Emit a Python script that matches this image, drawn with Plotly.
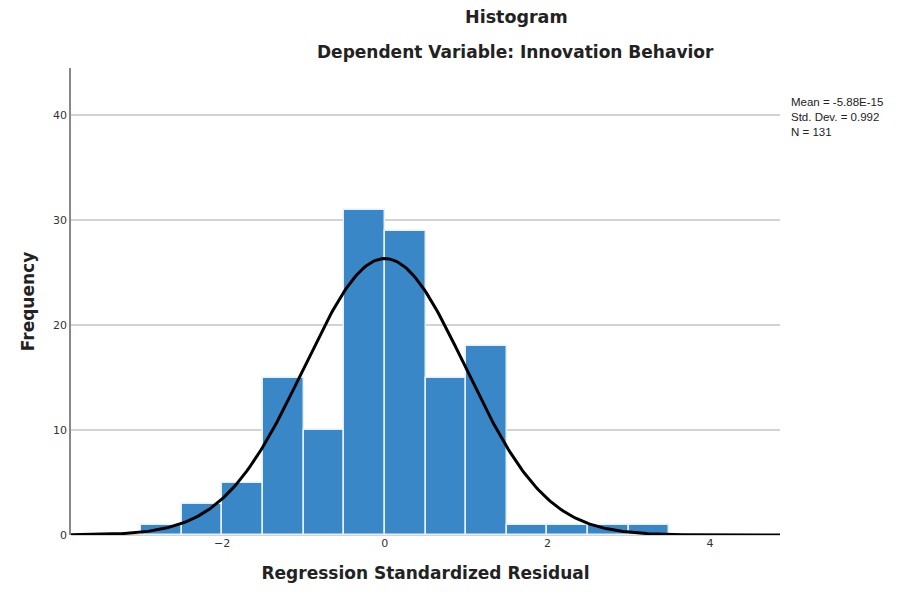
import numpy as np
import plotly.graph_objects as go

# Residual histogram: bin edges (width 0.5) and counts
bin_left = [-3.0, -2.5, -2.0, -1.5, -1.0, -0.5, 0.0, 0.5, 1.0, 1.5, 2.0, 2.5, 3.0]
counts = [1, 3, 5, 15, 10, 31, 29, 15, 18, 1, 1, 1, 1]
bin_width = 0.5

mean = -5.88e-15
std_dev = 0.992
n_obs = 131

x_ticks = [-2, 0, 2, 4]
y_ticks = [0, 10, 20, 30, 40]

stats_lines = ["Mean = -5.88E-15", f"Std. Dev. = {std_dev}", f"N = {n_obs}"]

centers = [b + bin_width / 2 for b in bin_left]

# Normal curve scaled to the histogram counts
xs = np.linspace(-3.86, 4.86, 400)
ys = n_obs * bin_width / (std_dev * np.sqrt(2 * np.pi)) * np.exp(-0.5 * ((xs - mean) / std_dev) ** 2)

font_axis = "DejaVu Sans, Liberation Sans, sans-serif"

fig = go.Figure()
fig.add_trace(go.Bar(
    x=centers, y=counts, width=bin_width,
    marker=dict(color="#3a87c8", line=dict(color="#e6f0f8", width=1.5)),
    hoverinfo="x+y", showlegend=False,
))
fig.add_trace(go.Scatter(
    x=xs, y=ys, mode="lines",
    line=dict(color="black", width=3), showlegend=False, hoverinfo="skip",
))

annotations = [
    dict(text="<b>Histogram</b>", xref="paper", yref="paper", x=0.629, y=1.0,
         yshift=51, xanchor="center", yanchor="middle", showarrow=False,
         font=dict(family=font_axis, size=17.5, color="#222")),
    dict(text="<b>Dependent Variable: Innovation Behavior</b>", xref="paper", yref="paper",
         x=0.627, y=1.0, yshift=16, xanchor="center", yanchor="middle", showarrow=False,
         font=dict(family=font_axis, size=17, color="#222")),
    dict(text="<br>".join(stats_lines), xref="paper", yref="paper",
         x=1.0, y=1.0, xshift=9, yshift=-26, xanchor="left", yanchor="top", align="left",
         showarrow=False, font=dict(family="Liberation Sans, sans-serif", size=11.5, color="#222")),
]

fig.update_layout(
    width=914, height=599,
    margin=dict(l=71, r=134, t=68, b=64),
    paper_bgcolor="white", plot_bgcolor="white",
    bargap=0,
    font=dict(family=font_axis, color="#222"),
    xaxis=dict(
        range=[-3.86, 4.86], tickvals=x_ticks, ticktext=["\u22122", "0", "2", "4"],
        showgrid=False, zeroline=False, showline=False, ticks="",
        tickfont=dict(size=11, color="#333"),
        title=dict(text="<b>Regression Standardized Residual</b>", font=dict(size=17, color="#222"), standoff=18),
    ),
    yaxis=dict(
        range=[0, 44.5], tickvals=y_ticks,
        showgrid=True, gridcolor="#d3d3d3", gridwidth=2,
        zeroline=True, zerolinecolor="#d3d3d3", zerolinewidth=2,
        showline=True, linecolor="#888", linewidth=1.5, ticks="",
        tickfont=dict(size=11, color="#333"),
        title=dict(text="<b>Frequency</b>", font=dict(size=17, color="#222"), standoff=14),
    ),
    annotations=annotations,
)

fig.write_html("out.html")
